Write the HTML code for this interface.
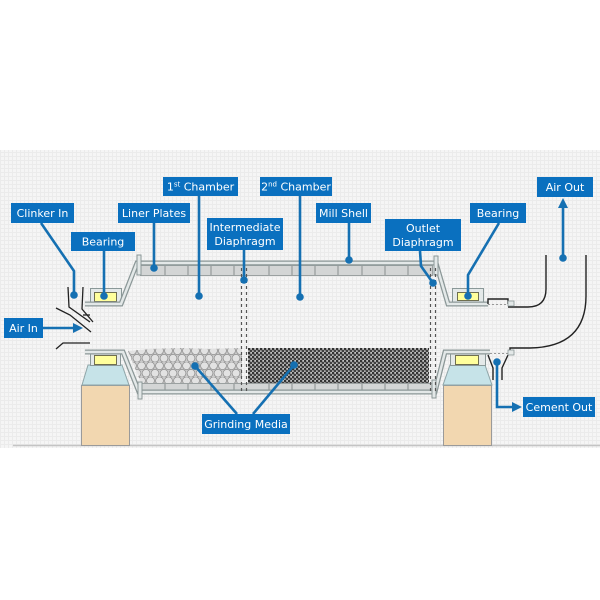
<!DOCTYPE html>
<html><head><meta charset="utf-8"><style>
html,body{margin:0;padding:0;background:#fff;}
svg{display:block;}
text{font-family:"DejaVu Sans","Liberation Sans",sans-serif;font-size:11px;fill:#fff;}
</style></head><body>
<svg width="600" height="600" viewBox="0 0 600 600" xmlns="http://www.w3.org/2000/svg">
<defs>
<pattern id="grid" width="4" height="4" patternUnits="userSpaceOnUse">
<rect width="4" height="4" fill="#f5f5f5"/>
<path d="M0 0.5H4M0.5 0V4" stroke="#ebebeb" stroke-width="1"/>
</pattern>
<pattern id="balls" width="9" height="15" patternUnits="userSpaceOnUse" x="128" y="347">
<rect width="9" height="15" fill="#c9c9c9"/>
<circle cx="4.5" cy="3.75" r="3.9" fill="#e2e2e2" stroke="#8c8c8c" stroke-width="0.7"/>
<circle cx="0" cy="11.25" r="3.9" fill="#e2e2e2" stroke="#8c8c8c" stroke-width="0.7"/>
<circle cx="9" cy="11.25" r="3.9" fill="#e2e2e2" stroke="#8c8c8c" stroke-width="0.7"/>
</pattern>
<pattern id="fine" width="4" height="4" patternUnits="userSpaceOnUse">
<rect width="4" height="4" fill="#b0b0b0"/>
<circle cx="1" cy="1" r="1.35" fill="#333"/>
<circle cx="3" cy="3" r="1.35" fill="#404040"/>
<circle cx="3" cy="1" r="0.6" fill="#e8e8e8"/>
</pattern>
</defs>

<rect x="0" y="150" width="600" height="298" fill="url(#grid)"/>
<line x1="13" y1="445.5" x2="600" y2="445.5" stroke="#c4c4c4" stroke-width="1.5"/>

<!-- foundations -->
<rect x="81.5" y="385.5" width="48" height="60" fill="#f2d7b0" stroke="#9a9a9a"/>
<rect x="443.5" y="385.5" width="48" height="60" fill="#f2d7b0" stroke="#9a9a9a"/>
<polygon points="88,365 122,365 129,385 82,385" fill="#c6e3e8" stroke="#8fa5a8"/>
<polygon points="450,365 485,365 492,385 443,385" fill="#c6e3e8" stroke="#8fa5a8"/>

<!-- bearings -->
<rect x="90.5" y="288.5" width="31" height="15" fill="#e4e9e9" stroke="#8a9898"/>
<rect x="94.5" y="292.5" width="22" height="9" fill="#ffff9c" stroke="#6f6f50"/>
<rect x="452.5" y="288.5" width="31" height="14" fill="#e4e9e9" stroke="#8a9898"/>
<rect x="457.5" y="292.5" width="21" height="8" fill="#ffff9c" stroke="#6f6f50"/>
<rect x="90.5" y="353.5" width="30" height="12" fill="#e4e9e9" stroke="#8a9898"/>
<rect x="94.5" y="355.5" width="22" height="9" fill="#ffff9c" stroke="#6f6f50"/>
<rect x="450.5" y="353.5" width="35" height="12" fill="#e4e9e9" stroke="#8a9898"/>
<rect x="455.5" y="355.5" width="23" height="9" fill="#ffff9c" stroke="#6f6f50"/>

<!-- media -->
<polygon points="128,351 150,349 180,348 210,349 242,348 242,383 141,383" fill="url(#balls)"/>
<rect x="248" y="348" width="181" height="35" fill="url(#fine)"/>

<!-- liner plates -->
<rect x="140.5" y="265.5" width="292" height="10" fill="#d3d5d5" stroke="#9aa0a0"/>
<rect x="141.5" y="383.5" width="291" height="7" fill="#d3d5d5" stroke="#9aa0a0"/>
<g stroke="#8a9090" stroke-width="1">
<path d="M165 266V275M188 266V275M211 266V275M234 266V275M269 266V275M292 266V275M315 266V275M338 266V275M362 266V275M385 266V275M408 266V275"/>
<path d="M165 384V390M188 384V390M211 384V390M234 384V390M269 384V390M292 384V390M315 384V390M338 384V390M362 384V390M385 384V390M408 384V390"/>
</g>

<!-- shell -->
<g fill="none" stroke-linejoin="miter">
<path d="M85,304 L121,304 L137,263 L436,263 L448,304 L488,304" stroke="#8b9797" stroke-width="5"/>
<path d="M85,304 L121,304 L137,263 L436,263 L448,304 L488,304" stroke="#e3e8e8" stroke-width="2.5"/>
<path d="M85,352 L123,352 L139,392 L435,392 L445,352 L490,352" stroke="#8b9797" stroke-width="5"/>
<path d="M85,352 L123,352 L139,392 L435,392 L445,352 L490,352" stroke="#e3e8e8" stroke-width="2.5"/>
</g>
<rect x="137" y="255" width="4" height="20" fill="#e3e8e8" stroke="#8b9797"/>
<rect x="434" y="256" width="4" height="19" fill="#e3e8e8" stroke="#8b9797"/>
<rect x="138" y="382" width="4" height="17" fill="#e3e8e8" stroke="#8b9797"/>
<rect x="432" y="380" width="4" height="18" fill="#e3e8e8" stroke="#8b9797"/>

<!-- diaphragms -->
<g stroke="#555" stroke-width="1.2" stroke-dasharray="3,3">
<line x1="241.5" y1="268" x2="241.5" y2="392"/>
<line x1="246.5" y1="268" x2="246.5" y2="392"/>
<line x1="430.5" y1="268" x2="430.5" y2="392"/>
<line x1="435.5" y1="268" x2="435.5" y2="392"/>
</g>

<!-- inlet chute -->
<g fill="none" stroke="#222" stroke-width="1.3">
<path d="M68,287 L69,307 L90,322"/>
<path d="M83,287 L82,309 L93,322"/>
<path d="M56,308 L70,315 L91,332"/>
<path d="M83,315 L90,315"/>
<path d="M56,349 L63,343 L90,343"/>
</g>

<!-- outlet duct -->
<g fill="none" stroke="#222" stroke-width="1.4">
<path d="M488,304 L488,299 L508,299 L508,304"/>
<path d="M508,307 L528,307 Q546,307 546,289 L546,255"/>
<path d="M586,255 L586,296 Q586,347 530,348 L510,348 L510,352"/>
<path d="M488,355 L493,368 L493,380"/>
<path d="M508,355 L502,368 L502,380"/>
</g>
<g stroke="#999" stroke-width="1" stroke-dasharray="2,2">
<line x1="488" y1="304.5" x2="508" y2="304.5"/>
<line x1="490" y1="353.5" x2="508" y2="353.5"/>
</g>
<rect x="508" y="301" width="6" height="5" fill="#e3e8e8" stroke="#8b9797" stroke-width="0.8"/>
<rect x="508" y="350" width="6" height="5" fill="#e3e8e8" stroke="#8b9797" stroke-width="0.8"/>

<!-- connectors -->
<g stroke="#1570b2" stroke-width="2.6" fill="none">
<path d="M41,223 L74,271 L74,295"/>
<path d="M104,251 L104,296"/>
<path d="M154,223 L154,268"/>
<path d="M199,196 L199,296"/>
<path d="M244,250 L244,280"/>
<path d="M300,196 L300,297"/>
<path d="M349,223 L349,260"/>
<path d="M420,251 L421,266 L433,283"/>
<path d="M499,223 L468,275 L468,296"/>
<path d="M563,258 L563,206"/>
<path d="M43,328 L76,328"/>
<path d="M497,362 L497,407 L514,407"/>
<path d="M237,414 L195,366"/>
<path d="M253,414 L294,365"/>
</g>
<g fill="#1570b2">
<circle cx="74" cy="295" r="3.8"/>
<circle cx="104" cy="296" r="3.8"/>
<circle cx="154" cy="268" r="3.8"/>
<circle cx="199" cy="296" r="3.8"/>
<circle cx="244" cy="280" r="3.8"/>
<circle cx="300" cy="297" r="3.8"/>
<circle cx="349" cy="260" r="3.8"/>
<circle cx="433" cy="283" r="3.8"/>
<circle cx="468" cy="296" r="3.8"/>
<circle cx="563" cy="258" r="3.8"/>
<circle cx="497" cy="362" r="3.8"/>
<circle cx="195" cy="366" r="3.8"/>
<circle cx="294" cy="365" r="3.8"/>
<polygon points="563,198 558,208 568,208"/>
<polygon points="83,328 73,323 73,333"/>
<polygon points="522,407 512,402 512,412"/>
</g>

<!-- labels -->
<g fill="#0a70bf">
<rect x="11" y="203" width="63" height="20"/>
<rect x="71" y="232" width="64" height="19"/>
<rect x="118" y="203" width="72" height="20"/>
<rect x="163" y="177" width="75" height="19"/>
<rect x="260" y="177" width="72" height="19"/>
<rect x="207" y="218" width="76" height="32"/>
<rect x="316" y="203" width="55" height="20"/>
<rect x="385" y="219" width="76" height="32"/>
<rect x="470" y="203" width="56" height="20"/>
<rect x="537" y="177" width="56" height="20"/>
<rect x="4" y="318" width="39" height="20"/>
<rect x="523" y="397" width="72" height="20"/>
<rect x="202" y="414" width="88" height="20"/>
</g>
<g text-anchor="middle">
<text x="42.5" y="217">Clinker In</text>
<text x="103" y="245.5">Bearing</text>
<text x="154" y="217">Liner Plates</text>
<text x="200.5" y="190.5">1<tspan font-size="7" dy="-4">st</tspan><tspan dy="4"> Chamber</tspan></text>
<text x="296" y="190.5">2<tspan font-size="7" dy="-4">nd</tspan><tspan dy="4"> Chamber</tspan></text>
<text x="245" y="231">Intermediate</text>
<text x="245" y="245">Diaphragm</text>
<text x="343.5" y="217">Mill Shell</text>
<text x="423" y="232">Outlet</text>
<text x="423" y="246">Diaphragm</text>
<text x="498" y="217">Bearing</text>
<text x="565" y="191">Air Out</text>
<text x="23.5" y="332">Air In</text>
<text x="559" y="411">Cement Out</text>
<text x="246" y="428">Grinding Media</text>
</g>
</svg>
</body></html>
